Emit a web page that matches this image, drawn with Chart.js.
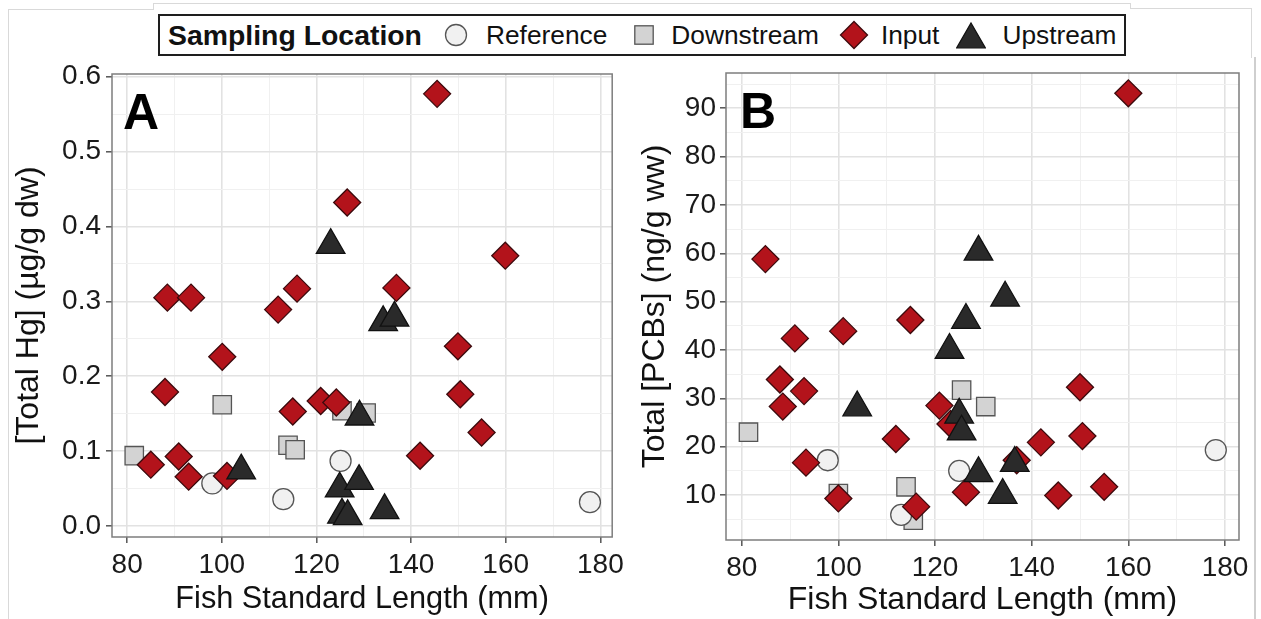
<!DOCTYPE html>
<html>
<head>
<meta charset="utf-8">
<title>Fish contaminant concentrations by sampling location</title>
<script src="https://cdn.jsdelivr.net/npm/chart.js@4.4.1/dist/chart.umd.min.js"></script>
<style>
  html, body { margin: 0; padding: 0; background: #fff; }
  body { width: 1261px; height: 619px; position: relative; overflow: hidden;
         font-family: "Liberation Sans", Arial, sans-serif; color: #111; }
  canvas { position: absolute; top: 0; }
  #panelA { left: 0; }
  #panelB { left: 630px; }
  .edge { position: absolute; background: #d9d9d9; }
  #legend { position: absolute; left: 158px; top: 14px; width: 968px; height: 42px;
            box-sizing: border-box; border: 2px solid #1e1e1e; background: #fff;
            display: flex; align-items: center; padding-left: 8px; white-space: nowrap; }
  #legend .title { font-weight: bold; font-size: 28.4px; }
  #legend .item { display: flex; align-items: center; font-size: 26.3px; }
  #legend svg { display: block; }
</style>
</head>
<body>
<!-- faint outer frame lines -->
<div class="edge" style="left:8px;top:9px;width:1px;height:610px"></div>
<div class="edge" style="left:8px;top:9px;width:146px;height:1px"></div>
<div class="edge" style="left:153px;top:3px;width:1px;height:7px"></div>
<div class="edge" style="left:153px;top:3px;width:978px;height:1px"></div>
<div class="edge" style="left:1130px;top:3px;width:1px;height:6px"></div>
<div class="edge" style="left:1130px;top:8px;width:122px;height:1px"></div>
<div class="edge" style="left:1251px;top:8px;width:1px;height:50px"></div>
<div class="edge" style="left:1254px;top:57px;width:2px;height:562px;background:#cfcfcf"></div>

<canvas id="panelA" width="630" height="619"></canvas>
<canvas id="panelB" width="631" height="619"></canvas>

<div id="legend">
  <span class="title">Sampling Location</span>
  <span class="item" style="margin-left:19px"><svg width="30" height="30" viewBox="0 0 30 30" style="margin-right:15px"><circle cx="15" cy="15" r="10.5" fill="#f1f1f1" stroke="#555" stroke-width="1.3"/></svg>Reference</span>
  <span class="item" style="margin-left:22px"><svg width="30" height="30" viewBox="0 0 30 30" style="margin-right:12px"><rect x="5.8" y="5.8" width="18.4" height="18.4" fill="#d3d3d3" stroke="#555" stroke-width="1.3"/></svg>Downstream</span>
  <span class="item" style="margin-left:20px"><svg width="30" height="30" viewBox="0 0 30 30" style="margin-right:12px"><polygon points="15,1.5 28.5,15 15,28.5 1.5,15" fill="#b3131b" stroke="#3c0a0d" stroke-width="1.3"/></svg>Input</span>
  <span class="item" style="margin-left:17px"><svg width="30" height="30" viewBox="0 0 30 30" style="margin-right:16px"><polygon points="15,3 29.3,27.8 0.7,27.8" fill="#2a2a2a" stroke="#111" stroke-width="1.3"/></svg>Upstream</span>
</div>

<script>
// ---- Panel A: total mercury (µg/g dw) vs fish standard length (mm) ----
const hgReference  = [[98.0, 0.057], [113.0, 0.036], [125.1, 0.087], [177.8, 0.032]];
const hgDownstream = [[81.5, 0.094], [100.1, 0.162], [114.0, 0.108], [115.5, 0.102], [125.4, 0.154], [130.5, 0.151]];
const hgInput      = [[85.0, 0.082], [88.0, 0.179], [88.5, 0.305], [90.9, 0.093], [93.0, 0.066], [93.5, 0.305],
                      [100.1, 0.226], [101.1, 0.067], [111.9, 0.289], [115.0, 0.153], [115.9, 0.317], [120.9, 0.167],
                      [124.2, 0.165], [126.5, 0.432], [136.9, 0.318], [141.9, 0.094], [145.5, 0.577], [149.9, 0.240],
                      [150.4, 0.176], [154.9, 0.125], [159.9, 0.361]];
const hgUpstream   = [[104.1, 0.074], [123.0, 0.375], [124.9, 0.050], [125.4, 0.015], [126.6, 0.013], [129.0, 0.060],
                      [129.1, 0.146], [134.1, 0.272], [134.4, 0.021], [136.5, 0.278]];

// ---- Panel B: total PCBs (ng/g ww) vs fish standard length (mm) ----
const pcbReference  = [[97.8, 17.2], [113.0, 5.9], [125.0, 15.0], [178.1, 19.3]];
const pcbDownstream = [[81.4, 23.0], [100.0, 10.3], [114.0, 11.7], [115.5, 4.8], [125.5, 31.7], [130.5, 28.3]];
const pcbInput      = [[84.9, 58.8], [87.9, 33.9], [88.5, 28.3], [91.0, 42.4], [92.9, 31.5], [93.3, 16.7],
                       [100.0, 9.3], [101.0, 43.9], [111.9, 21.6], [114.9, 46.2], [116.1, 7.6], [120.9, 28.5],
                       [123.2, 24.7], [126.4, 10.6], [136.9, 17.2], [141.9, 20.9], [145.5, 9.9], [150.0, 32.3],
                       [150.5, 22.2], [155.0, 11.7], [160.0, 93.1]];
const pcbUpstream   = [[103.9, 28.1], [123.0, 40.0], [125.0, 26.6], [125.5, 23.1], [126.4, 46.2], [129.0, 60.3],
                       [129.0, 14.5], [134.0, 10.0], [134.5, 50.8], [136.5, 16.6]];

// ---- tick values ----
const lengthMajorTicks = [80, 100, 120, 140, 160, 180];
const lengthMinorTicks = [90, 110, 130, 150, 170];
const hgMajorTicks  = [0.0, 0.1, 0.2, 0.3, 0.4, 0.5, 0.6];
const hgMinorTicks  = [0.05, 0.15, 0.25, 0.35, 0.45, 0.55];
const pcbMajorTicks = [10, 20, 30, 40, 50, 60, 70, 80, 90];
const pcbMinorTicks = [5, 15, 25, 35, 45, 55, 65, 75, 85, 95];

const FONT = '"Liberation Sans", Arial, sans-serif';

const styles = {
  reference:  { label: 'Reference',  pointStyle: 'circle',   radius: 10.5, bg: '#f1f1f1', border: '#555555', order: 3 },
  downstream: { label: 'Downstream', pointStyle: 'rect',     radius: 13,   bg: '#d3d3d3', border: '#555555', order: 4 },
  input:      { label: 'Input',      pointStyle: 'rectRot',  radius: 13.5, bg: '#b3131b', border: '#3c0a0d', order: 2 },
  upstream:   { label: 'Upstream',   pointStyle: 'triangle', radius: 16.5, bg: '#2a2a2a', border: '#111111', order: 1 }
};

function dataset(points, s) {
  return {
    label: s.label,
    data: points.map(([x, y]) => ({ x, y })),
    pointStyle: s.pointStyle,
    pointRadius: s.radius,
    pointBackgroundColor: s.bg,
    pointBorderColor: s.border,
    pointBorderWidth: 1.3,
    order: s.order
  };
}

function isIn(list, v) { return list.some(t => Math.abs(t - v) < 1e-9); }

// panel frame and corner letter
const panelDecor = {
  id: 'panelDecor',
  afterDraw(chart, args, opts) {
    const { ctx, chartArea: a } = chart;
    ctx.save();
    ctx.strokeStyle = '#7d7d7d';
    ctx.lineWidth = 1.5;
    ctx.strokeRect(a.left, a.top, a.right - a.left, a.bottom - a.top);
    ctx.fillStyle = '#000';
    ctx.font = 'bold 50px ' + FONT;
    ctx.textBaseline = 'alphabetic';
    ctx.fillText(opts.letter, a.left + opts.dx, a.top + 55);
    ctx.restore();
  }
};

function makePanel(canvasId, cfg) {
  const majorX = lengthMajorTicks, minorX = lengthMinorTicks;
  const allX = majorX.concat(minorX).sort((a, b) => a - b);
  const allY = cfg.yMajor.concat(cfg.yMinor).sort((a, b) => a - b);
  const gridColor = (major) => ctx => isIn(major, ctx.tick.value) ? '#e2e2e2' : '#f0f0f0';
  const gridWidth = (major) => ctx => isIn(major, ctx.tick.value) ? 1.6 : 1;
  const tickColor = (major) => ctx => isIn(major, ctx.tick.value) ? '#555' : 'rgba(0,0,0,0)';

  return new Chart(document.getElementById(canvasId), {
    type: 'scatter',
    data: {
      datasets: [
        dataset(cfg.series[0], styles.reference),
        dataset(cfg.series[1], styles.downstream),
        dataset(cfg.series[2], styles.input),
        dataset(cfg.series[3], styles.upstream)
      ]
    },
    options: {
      responsive: false,
      animation: false,
      events: [],
      layout: { padding: { top: cfg.top, right: cfg.right, left: 0, bottom: 0 } },
      plugins: {
        legend: { display: false },
        tooltip: { enabled: false },
        panelDecor: { letter: cfg.letter, dx: cfg.letterDx }
      },
      scales: {
        x: {
          type: 'linear',
          min: cfg.xMin, max: cfg.xMax,
          afterFit: s => { s.height = cfg.xAxisHeight; },
          afterBuildTicks: s => { s.ticks = allX.map(v => ({ value: v })); },
          ticks: {
            autoSkip: false, maxRotation: 0, padding: 5,
            color: '#1a1a1a', font: { family: FONT, size: cfg.tickSize },
            callback: v => isIn(majorX, v) ? String(v) : ''
          },
          grid: { color: gridColor(majorX), lineWidth: gridWidth(majorX), tickLength: 6, tickColor: tickColor(majorX), tickWidth: 1.5 },
          border: { display: false },
          title: { display: true, text: 'Fish Standard Length (mm)', color: '#111',
                   font: { family: FONT, size: cfg.xTitleSize }, padding: { top: 0, bottom: cfg.xTitlePad } }
        },
        y: {
          type: 'linear',
          min: cfg.yMin, max: cfg.yMax,
          afterFit: s => { s.width = cfg.yAxisWidth; },
          afterBuildTicks: s => { s.ticks = allY.map(v => ({ value: v })); },
          ticks: {
            autoSkip: false, padding: cfg.yTickPad,
            color: '#1a1a1a', font: { family: FONT, size: cfg.tickSize },
            callback: v => isIn(cfg.yMajor, v) ? cfg.fmt(v) : ''
          },
          grid: { color: gridColor(cfg.yMajor), lineWidth: gridWidth(cfg.yMajor), tickLength: 6, tickColor: tickColor(cfg.yMajor), tickWidth: 1.5 },
          border: { display: false },
          title: { display: true, text: cfg.yTitle, color: '#111',
                   font: { family: FONT, size: cfg.yTitleSize }, padding: { top: cfg.yTitlePad, bottom: 0 } }
        }
      }
    },
    plugins: [panelDecor]
  });
}

makePanel('panelA', {
  series: [hgReference, hgDownstream, hgInput, hgUpstream],
  yMajor: hgMajorTicks, yMinor: hgMinorTicks, fmt: v => v.toFixed(1),
  xMin: 76.8, xMax: 182.5, yMin: -0.0145, yMax: 0.6035,
  top: 74, right: 12, yAxisWidth: 112, xAxisHeight: 82,
  tickSize: 28, yTickPad: 5, xTitleSize: 30.7, xTitlePad: 1,
  yTitle: '[Total Hg] (µg/g dw)', yTitleSize: 32, yTitlePad: 10,
  letter: 'A', letterDx: 11
});

makePanel('panelB', {
  series: [pcbReference, pcbDownstream, pcbInput, pcbUpstream],
  yMajor: pcbMajorTicks, yMinor: pcbMinorTicks, fmt: v => String(v),
  xMin: 76.75, xMax: 182.9, yMin: 0.7, yMax: 97.3,
  top: 73, right: 22, yAxisWidth: 96, xAxisHeight: 79,
  tickSize: 28, yTickPad: 4, xTitleSize: 32, xTitlePad: 0,
  yTitle: 'Total [PCBs] (ng/g ww)', yTitleSize: 32, yTitlePad: 6,
  letter: 'B', letterDx: 14
});
</script>
</body>
</html>
